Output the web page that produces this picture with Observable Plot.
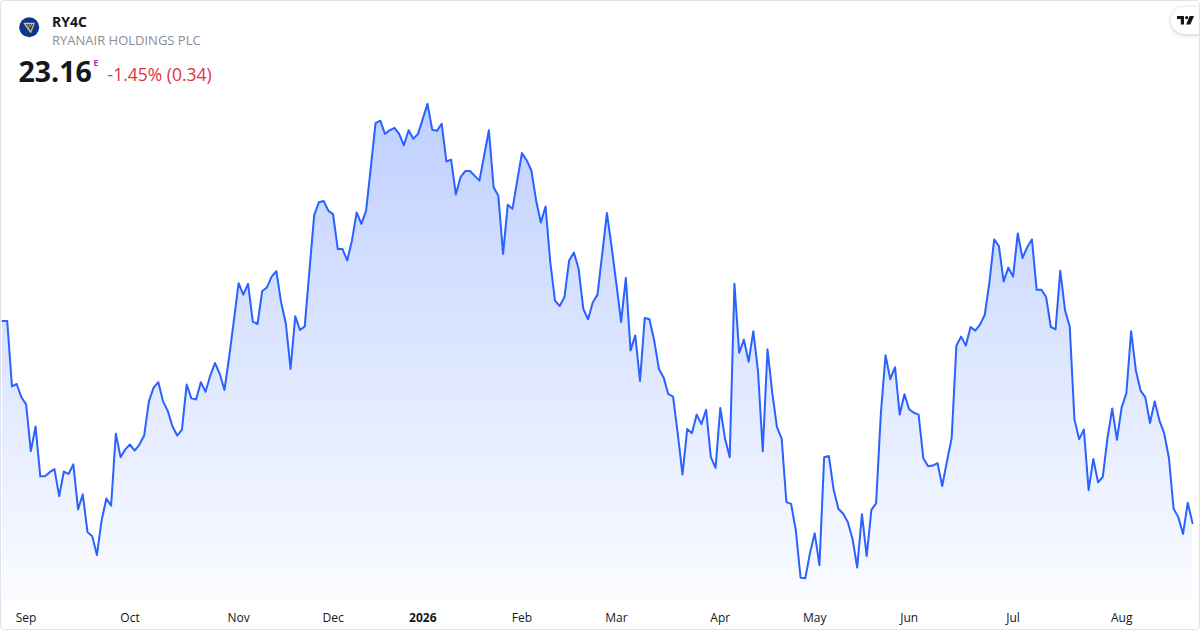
<!DOCTYPE html>
<html>
<head>
<meta charset="utf-8">
<script src="https://cdn.jsdelivr.net/npm/d3@7"></script>
<script src="https://cdn.jsdelivr.net/npm/@observablehq/plot@0.6"></script>
<style>
  html, body { margin: 0; padding: 0; background: #fff; }
  #card { position: relative; width: 1200px; height: 630px; overflow: hidden; background: #fff; font-family: "Open Sans", "Noto Sans", sans-serif; }
  #chart { position: absolute; left: 0; top: 0; }
  #header { position: absolute; left: 0; top: 0; }
  #frame { position: absolute; left: 0; top: 0; width: 1200px; height: 630px; box-sizing: border-box; border: 1px solid #e0e3eb; border-radius: 4px; pointer-events: none; }
  #tvpill { position: absolute; left: 1171px; top: 7px; width: 44px; height: 27px; border-radius: 14px; background: #fff; box-shadow: 0 1px 4px rgba(0,0,0,0.22); }
  #tvpill svg { position: absolute; left: 6px; top: 9px; }
</style>
</head>
<body>
<div id="card">
  <div id="chart"></div>
  <svg id="header" width="300" height="100"></svg>
  <div id="tvpill"><svg width="17" height="9" viewBox="0 0 17 9"><path d="M0,0H7V8.5H3.8V3H0Z" fill="#131722"/><circle cx="9.6" cy="1.6" r="1.6" fill="#131722"/><path d="M12.6,0H17L13.4,8.5H9.1Z" fill="#131722"/></svg></div>
  <div id="frame"></div>
</div>
<script>
// ---- data ----
const symbol = "RY4C";
const companyName = "RYANAIR HOLDINGS PLC";
const lastPrice = 23.16;
const changePct = -1.45;
const changeAbs = 0.34;

const prices = [
  26.53, 26.53, 25.44, 25.48, 25.26, 25.14, 24.36, 24.77, 23.94, 23.94,
  24.01, 24.06, 23.61, 24.02, 23.98, 24.14, 23.39, 23.64, 23.01, 22.94,
  22.63, 23.21, 23.57, 23.45, 24.65, 24.26, 24.39, 24.47, 24.37, 24.47,
  24.62, 25.19, 25.42, 25.51, 25.19, 25.03, 24.77, 24.62, 24.72, 25.47,
  25.24, 25.22, 25.51, 25.35, 25.62, 25.83, 25.65, 25.38, 25.93, 26.54,
  27.16, 26.97, 27.15, 26.52, 26.48, 27.03, 27.09, 27.27, 27.36, 26.84,
  26.49, 25.73, 26.61, 26.38, 26.44, 27.37, 28.29, 28.51, 28.53, 28.37,
  28.31, 27.73, 27.73, 27.54, 27.87, 28.34, 28.15, 28.37, 29.09, 29.83,
  29.87, 29.65, 29.71, 29.75, 29.65, 29.46, 29.71, 29.57, 29.65, 29.90,
  30.15, 29.72, 29.70, 29.82, 29.19, 29.22, 28.64, 28.93, 29.03, 29.03,
  28.95, 28.87, 29.29, 29.71, 28.76, 28.62, 27.65, 28.47, 28.40, 28.87,
  29.33, 29.21, 29.04, 28.54, 28.17, 28.44, 27.51, 26.87, 26.78, 26.93,
  27.54, 27.67, 27.40, 26.73, 26.56, 26.84, 26.97, 27.65, 28.33, 27.76,
  27.15, 26.51, 27.25, 26.04, 26.29, 25.53, 26.58, 26.56, 26.21, 25.73,
  25.59, 25.31, 25.27, 24.65, 23.97, 24.73, 24.66, 24.97, 24.81, 25.05,
  24.26, 24.08, 25.08, 24.57, 24.26, 27.15, 26.00, 26.22, 25.85, 26.36,
  25.68, 24.36, 26.06, 25.34, 24.76, 24.57, 23.51, 23.48, 23.04, 22.25,
  22.24, 22.66, 22.99, 22.46, 24.26, 24.28, 23.72, 23.40, 23.32, 23.18,
  22.90, 22.42, 23.31, 22.61, 23.38, 23.49, 24.98, 25.96, 25.56, 25.76,
  24.97, 25.31, 25.06, 25.00, 24.97, 24.24, 24.11, 24.12, 24.16, 23.78,
  24.19, 24.58, 26.12, 26.27, 26.12, 26.43, 26.37, 26.47, 26.63, 27.18,
  27.89, 27.78, 27.19, 27.42, 27.27, 27.99, 27.58, 27.76, 27.89, 27.05,
  27.05, 26.93, 26.43, 26.39, 27.37, 26.71, 26.44, 24.89, 24.56, 24.72,
  23.71, 24.23, 23.84, 23.93, 24.58, 25.07, 24.55, 25.09, 25.33, 26.36,
  25.71, 25.37, 25.26, 24.83, 25.19, 24.87, 24.66, 24.25, 23.40, 23.26,
  22.98, 23.50, 23.16
];

// index of the first trading session of each month, and its label
const tickIndex  = [5, 27, 50, 70, 89, 110, 130, 152, 172, 192, 214, 237];
const tickLabels = ["Sep", "Oct", "Nov", "Dec", "2026", "Feb", "Mar", "Apr", "May", "Jun", "Jul", "Aug"];

// ---- chart ----
const yMin = 21.87, yMax = 30.29;
const data = prices.map((p, i) => ({ i, p }));
const ticks = tickIndex.map((t, k) => ({ t, label: tickLabels[k], year: /^\d{4}$/.test(tickLabels[k]) }));

const blue = "#2962ff";

const gradientDefs = () => {
  const defs = d3.create("svg:defs");
  const lg = defs.append("linearGradient").attr("id", "areaGrad")
    .attr("x1", 0).attr("y1", 0).attr("x2", 0).attr("y2", 1);
  lg.append("stop").attr("offset", "0%").attr("stop-color", blue).attr("stop-opacity", 0.3);
  lg.append("stop").attr("offset", "100%").attr("stop-color", blue).attr("stop-opacity", 0.02);
  return defs.node();
};

const chart = Plot.plot({
  width: 1200,
  height: 630,
  marginLeft: 2,
  marginRight: 8,
  marginTop: 95,
  marginBottom: 30,
  style: { background: "transparent", fontFamily: "'Open Sans', 'Noto Sans', sans-serif" },
  x: { domain: [0, prices.length - 1], axis: null },
  y: { domain: [yMin, yMax], axis: null },
  marks: [
    gradientDefs,
    Plot.areaY(data, { x: "i", y1: yMin, y2: "p", fill: "url(#areaGrad)" }),
    Plot.lineY(data, { x: "i", y: "p", stroke: blue, strokeWidth: 2, strokeLinejoin: "round" }),
    Plot.text(ticks.filter(d => !d.year), { x: "t", text: "label", frameAnchor: "bottom", dy: 21, fontSize: 12, fill: "#131722" }),
    Plot.text(ticks.filter(d => d.year), { x: "t", text: "label", frameAnchor: "bottom", dy: 21, fontSize: 12, fontWeight: "bold", fill: "#131722" })
  ]
});
document.getElementById("chart").appendChild(chart);

// ---- header ----
const hdr = d3.select("#header").style("font-family", "'Open Sans', 'Noto Sans', sans-serif");
const logo = hdr.append("g").attr("transform", "translate(29.2,27.3)");
logo.append("circle").attr("r", 10).attr("fill", "#0b3593");
logo.append("path").attr("d", "M-5,-4 L5,-4 L1.5,5 Z M-5,-4 L1.5,5").attr("fill", "none").attr("stroke", "#f1c933").attr("stroke-width", 1.2).attr("stroke-linejoin", "round");
logo.append("path").attr("d", "M-2.5,-4 L0.6,2.6 M0,-4 L1.3,0 M2.5,-4 L2,-1.5").attr("stroke", "#f1c933").attr("stroke-width", 0.8);

hdr.append("text").attr("x", 52).attr("y", 26.5).attr("font-size", 14).attr("font-weight", 700).attr("fill", "#131722").text(symbol);
hdr.append("text").attr("x", 52).attr("y", 44.7).attr("font-size", 13).attr("fill", "#8a8d94").text(companyName);
hdr.append("text").attr("x", 18.5).attr("y", 81.5).attr("font-size", 28.5).attr("font-weight", 700).attr("fill", "#131722").text(lastPrice.toFixed(2));
hdr.append("text").attr("x", 93.3).attr("y", 65.5).attr("font-size", 9.5).attr("font-weight", 700).attr("fill", "#ab47bc").text("E");
hdr.append("text").attr("x", 107.5).attr("y", 81.3).attr("font-size", 17.5).attr("fill", "#e0323e")
  .text(`${changePct.toFixed(2)}% (${changeAbs.toFixed(2)})`);
</script>
</body>
</html>
